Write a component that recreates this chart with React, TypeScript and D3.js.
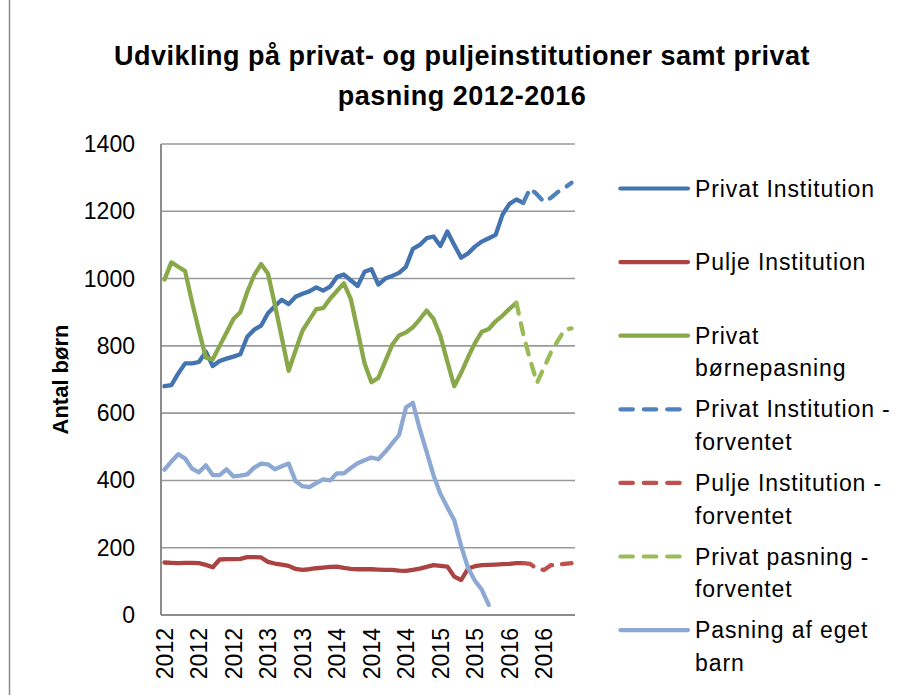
import React from "react";
import * as d3 from "d3";

const tickLabels = ["2012","2012","2012","2013","2013","2014","2014","2014","2015","2015","2016","2016"];
const nMonths = 60;
const yTicks = [0, 200, 400, 600, 800, 1000, 1200, 1400];

const privatInst: (number | null)[] = [
  680,683,718,748,748,752,783,740,755,762,768,775,827,848,860,897,918,937,924,946,
  955,962,974,964,976,1005,1012,995,978,1020,1028,982,1000,1008,1017,1035,1088,1100,1120,1125,
  1097,1140,1100,1062,1075,1095,1110,1120,1130,1190,1222,1235,1225,
  null,null,null,null,null,null,null,
];
const puljeInst: (number | null)[] = [
  156,155,154,155,155,154,149,142,165,166,166,167,172,172,171,158,153,150,146,137,
  134,136,139,141,143,144,140,137,136,136,136,135,134,134,132,131,134,138,143,148,
  146,144,114,104,138,145,148,149,150,151,152,154,154,
  null,null,null,null,null,null,null,
];
const privatPasning: (number | null)[] = [
  997,1048,1035,1022,930,845,765,760,800,840,880,900,960,1010,1043,1015,923,825,726,786,
  845,877,909,912,940,963,986,940,845,748,692,705,754,803,831,840,855,879,905,880,
  829,753,680,720,766,808,842,850,873,890,910,928,
  null,null,null,null,null,null,null,null,
];
const privatInstF: (number | null)[] = [
  ...Array(52).fill(null),
  1225,1268,1250,1228,1240,1257,1270,1285,
];
const puljeInstF: (number | null)[] = [
  ...Array(52).fill(null),
  154,152,137,134,148,150,152,154,
];
const privatPasningF: (number | null)[] = [
  ...Array(51).fill(null),
  928,835,758,690,735,780,815,848,852,
];
const egetBarn: (number | null)[] = [
  432,456,478,465,435,424,445,416,416,433,412,414,418,438,450,448,433,442,450,398,
  383,380,392,403,400,421,421,437,451,460,468,463,485,510,535,617,631,553,485,415,
  360,320,282,205,140,102,75,30,
  null,null,null,null,null,null,null,null,null,null,null,null,
];

const seriesList = [
  { name: ["Privat Institution"], data: privatInst, color: "#4374B0", dash: false },
  { name: ["Pulje Institution"], data: puljeInst, color: "#AA4341", dash: false },
  { name: ["Privat", "børnepasning"], data: privatPasning, color: "#88A84A", dash: false },
  { name: ["Privat Institution -", "forventet"], data: privatInstF, color: "#4F81BD", dash: true },
  { name: ["Pulje Institution -", "forventet"], data: puljeInstF, color: "#C0504D", dash: true },
  { name: ["Privat pasning -", "forventet"], data: privatPasningF, color: "#9BBB59", dash: true },
  { name: ["Pasning af eget", "barn"], data: egetBarn, color: "#8DA8D2", dash: false },
];

const FONT = "'Liberation Sans', Arial, Helvetica, sans-serif";

export default function App() {
  const W = 903, H = 695;
  const left = 161, right = 575, top = 144, bottom = 615;
  const x = d3.scaleBand<number>().domain(d3.range(nMonths)).range([left, right]);
  const cx = (i: number) => (x(i) as number) + x.bandwidth() / 2;
  const y = d3.scaleLinear().domain([0, 1400]).range([bottom, top]);
  const line = d3.line<number | null>()
    .defined((d) => d != null)
    .x((_, i) => cx(i))
    .y((d) => y(d as number));

  const legendX0 = 620.4, legendX1 = 688, legendTextX = 695;
  const legendY0 = 188.5, legendStep = 73.6;

  return (
    <svg width={W} height={H} style={{ position: "absolute", left: 0, top: 0, background: "#fff" }} fontFamily={FONT}>
      <rect x={0} y={0} width={W} height={H} fill="#fff" />
      <line x1={9.5} x2={9.5} y1={0} y2={H} stroke="#8c8c8c" strokeWidth={1.5} />
      <text x={462} y={65} textAnchor="middle" fontWeight="bold" fontSize={27} letterSpacing={0.5}>
        Udvikling på privat- og puljeinstitutioner samt privat
      </text>
      <text x={462} y={105} textAnchor="middle" fontWeight="bold" fontSize={27} letterSpacing={0.5}>
        pasning 2012-2016
      </text>
      {yTicks.map((t) => (
        <g key={t}>
          {t > 0 && (
            <line x1={left} x2={right} y1={y(t)} y2={y(t)} stroke="#9a9a9a" strokeWidth={1.6} />
          )}
          <text x={135} y={y(t)} dy="0.35em" textAnchor="end" fontSize={23}>
            {t}
          </text>
        </g>
      ))}
      <line x1={left} x2={left} y1={top} y2={bottom} stroke="#8c8c8c" strokeWidth={2} />
      <line x1={left} x2={right} y1={bottom} y2={bottom} stroke="#8c8c8c" strokeWidth={2} />
      {tickLabels.map((lab, k) => {
        const px = cx(k * 5);
        const py = 628;
        return (
          <text key={k} transform={`translate(${px},${py}) rotate(-90)`} dy="0.35em" textAnchor="end" fontSize={23}>
            {lab}
          </text>
        );
      })}
      <text transform={`translate(60,${(top + bottom) / 2}) rotate(-90)`} dy="0.35em" textAnchor="middle" fontWeight="bold" fontSize={22}>
        Antal børn
      </text>
      {seriesList.map((s, k) => (
        <path
          key={k}
          d={line(s.data) || ""}
          fill="none"
          stroke={s.color}
          strokeWidth={4.3}
          strokeLinejoin="round"
          strokeLinecap="round"
          strokeDasharray={s.dash ? "11,10" : undefined}
        />
      ))}
      {seriesList.map((s, k) => {
        const ly = legendY0 + k * legendStep;
        return (
          <g key={k}>
            <line x1={legendX0} x2={s.dash ? 680 : legendX1} y1={ly} y2={ly} stroke={s.color} strokeWidth={4.2}
              strokeLinecap="round" strokeDasharray={s.dash ? "12.5,10.9" : undefined} />
            {s.name.map((t, j) => (
              <text key={j} x={legendTextX} y={ly + 8 + j * 32.7} fontSize={23} letterSpacing={0.9}>
                {t}
              </text>
            ))}
          </g>
        );
      })}
    </svg>
  );
}
